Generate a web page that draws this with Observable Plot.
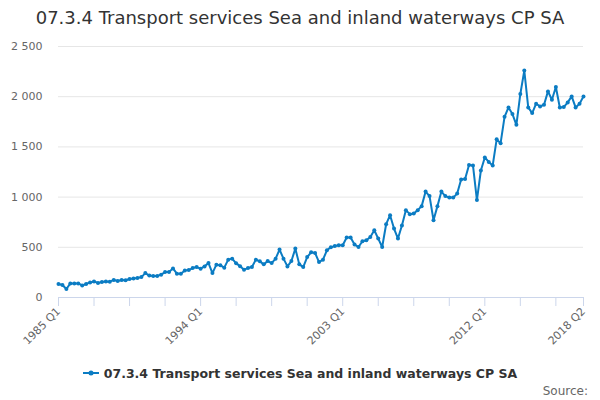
<!DOCTYPE html>
<html>
<head>
<meta charset="utf-8">
<script src="https://cdn.jsdelivr.net/npm/d3@7"></script>
<script src="https://cdn.jsdelivr.net/npm/@observablehq/plot@0.6"></script>
<style>
  body { margin: 0; background: #fff; font-family: "DejaVu Sans", sans-serif; }
  #wrap { position: relative; width: 600px; height: 400px; overflow: hidden; }
  #title { height: 36px; line-height: 36px; text-align: center; font-size: 18px; color: #333; }
  #chart svg { display: block; }
  #legend { height: 30px; display: flex; align-items: center; justify-content: center; font-size: 12.5px; font-weight: bold; color: #333; }
  #legend svg { margin-right: 5px; }
  #source { position: absolute; right: 12px; top: 384px; font-size: 12px; color: #666; }
</style>
</head>
<body>
<div id="wrap">
  <div id="title">07.3.4 Transport services Sea and inland waterways CP SA</div>
  <div id="chart"></div>
  <div id="legend">
    <svg width="16" height="10"><line x1="0" y1="5" x2="16" y2="5" stroke="#0b7cc3" stroke-width="2"/><circle cx="8" cy="5" r="2.5" fill="#0b7cc3"/></svg>
    <span>07.3.4 Transport services Sea and inland waterways CP SA</span>
  </div>
  <div id="source">Source:</div>
</div>
<script>
// quarterly values, 1985 Q1 .. 2018 Q2 (£m)
const values = [
  135, 125, 85, 140, 140, 140, 120, 135, 150, 160, 145, 155,
  160, 158, 175, 165, 175, 172, 185, 190, 195, 203, 243, 218,
  215, 215, 227, 253, 253, 290, 237, 237, 270, 273, 293, 303,
  287, 310, 343, 243, 327, 320, 297, 377, 387, 340, 312, 277,
  293, 303, 377, 360, 330, 363, 343, 387, 477, 387, 310, 363,
  487, 330, 303, 403, 450, 443, 353, 377, 470, 500, 512, 520,
  520, 597, 597, 527, 503, 560, 570, 603, 670, 587, 503, 730,
  820, 687, 587, 717, 870, 830, 837, 870, 910, 1055, 1010, 770,
  910, 1055, 1010, 995, 995, 1035, 1175, 1180, 1320, 1315, 970, 1265,
  1395, 1350, 1315, 1575, 1537, 1800, 1893, 1827, 1720, 2027, 2260, 1893,
  1837, 1930, 1903, 1920, 2053, 1970, 2097, 1893, 1897, 1943, 2003, 1893,
  1930, 2003
]
const startYear = 1985
const quarters = values.map((v, i) => `${startYear + Math.floor(i / 4)} Q${i % 4 + 1}`)

const labelQuarters = ['1985 Q1', '1994 Q1', '2003 Q1', '2012 Q1', '2018 Q2']
const tickQuarters = ['1985 Q1', '1987 Q2', '1989 Q3', '1991 Q4', '1994 Q1', '1996 Q2', '1998 Q3',
  '2000 Q4', '2003 Q1', '2005 Q2', '2007 Q3', '2009 Q4', '2012 Q1', '2014 Q2', '2016 Q3', '2018 Q2']
const yTicks = [0, 500, 1000, 1500, 2000, 2500]

const blue = '#0b7cc3'
const data = values.map((v, i) => ({i: i, q: quarters[i], v: v}))
const idx = q => quarters.indexOf(q)
const fmt = d3.format(',')

let chart = Plot.plot({
  width: 600,
  height: 322,
  marginTop: 10,
  marginBottom: 61,
  marginLeft: 58,
  marginRight: 17,
  style: {fontFamily: 'DejaVu Sans, sans-serif', fontSize: '11px', color: '#666'},
  x: {type: 'linear', domain: [0, values.length - 1]},
  y: {domain: [0, 2500]},
  marks: [
    Plot.ruleY(yTicks.slice(1), {stroke: '#e6e6e6', strokeWidth: 1}),
    Plot.ruleY([0], {stroke: '#ccd6eb', strokeWidth: 1}),
    Plot.axisY({
      ticks: yTicks,
      tickSize: 0,
      tickPadding: 16,
      tickFormat: d => fmt(d).replace(/,/g, ' '),
      label: null,
      fill: '#666',
    }),
    Plot.axisX({
      ticks: tickQuarters.map(idx),
      tickFormat: () => '',
      tickSize: 9,
      stroke: '#ccd6eb',
      label: null,
    }),
    Plot.axisX({
      ticks: labelQuarters.map(idx),
      tickFormat: i => quarters[i],
      tickSize: 0,
      tickPadding: 12,
      tickRotate: -45,
      fill: '#666',
      label: null,
    }),
    Plot.line(data, {x: 'i', y: 'v', stroke: blue, strokeWidth: 2}),
    Plot.dot(data, {x: 'i', y: 'v', r: 2, fill: blue}),
  ],
})
d3.select('#chart').append(() => chart)
</script>
</body>
</html>
